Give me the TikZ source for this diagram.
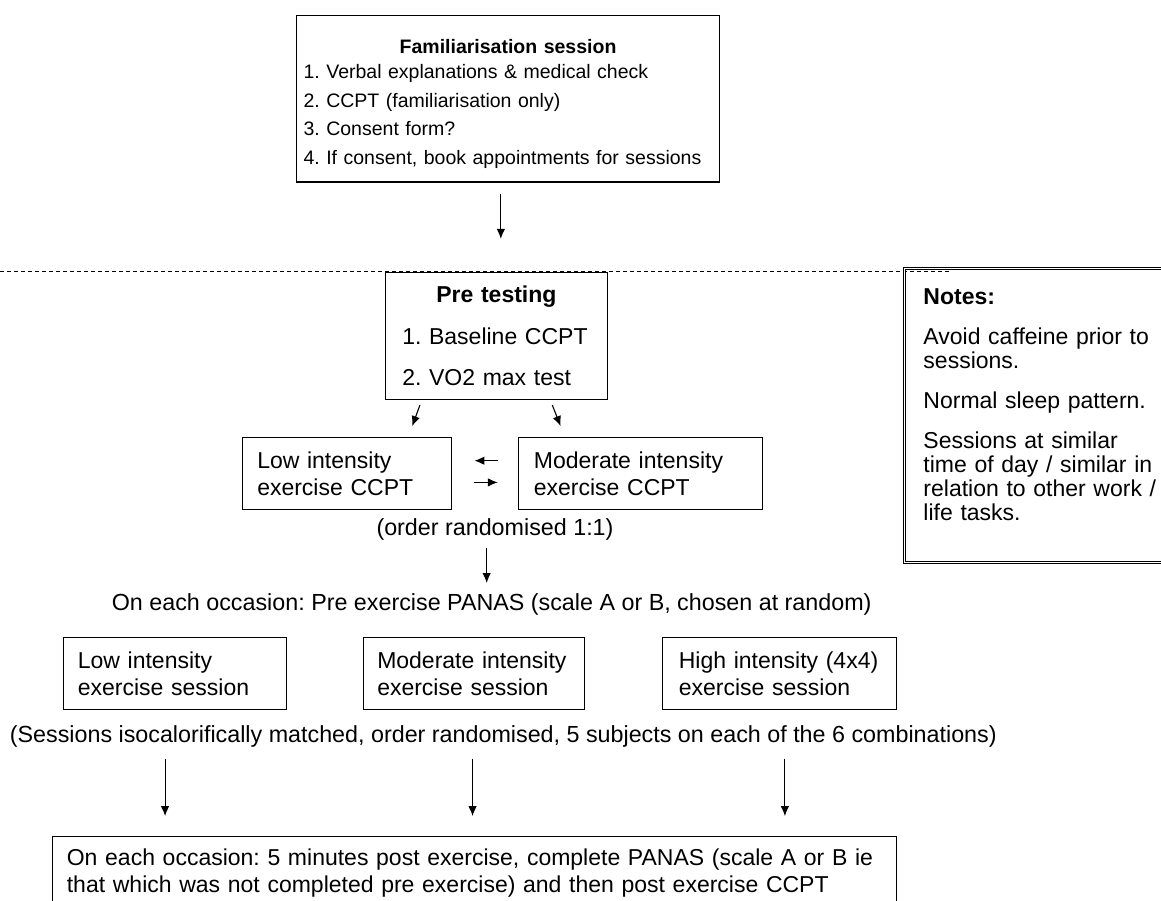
\documentclass[tikz,border=0pt]{standalone}
\usepackage{fontspec}
\setmainfont{Liberation Sans}
\usetikzlibrary{arrows.meta}
\begin{document}
\frenchspacing
\begin{tikzpicture}[x=1pt, y=-1pt, >={Latex[length=10pt,width=8.5pt]}, line width=1.1pt,
  box/.style={draw, anchor=north west, align=left, inner ysep=0pt,
    font=\fontsize{23}{27}\selectfont},
  plain/.style={font=\fontsize{23.3}{27}\selectfont, inner sep=0pt}]
\clip (0,0) rectangle (1161,901);
% familiarisation (above the dashed line)
\node[box, inner xsep=7pt, text width=409pt, minimum height=166.5pt,
  font=\fontsize{19.5}{28.5}\selectfont] (fam) at (296,15)
  {\makebox[\hsize][c]{\rule{0pt}{24pt}\bfseries Familiarisation session}\\[-3.5pt]
   1. Verbal explanations \& medical check\\
   2. CCPT (familiarisation only)\\
   3. Consent form?\\
   4. If consent, book appointments for sessions};
\coordinate (dashstart) at (0,271);
\coordinate (dashend) at (950,271);
\draw[line width=0.9pt, dash pattern=on 4pt off 3pt] (dashstart) -- (dashend);
\draw[->] (fam.south) ++(-7.2,11.3) -- ++(0,45);
% notes
\node[box, double, line width=0.9pt, double distance=1.6pt, inner xsep=19pt,
  text width=240pt, minimum height=294pt, font=\fontsize{23}{24}\selectfont] (notes) at (904,268)
  {\textbf{Notes:}\\[16pt]
   Avoid caffeine prior to\\ sessions.\\[16pt]
   Normal sleep pattern.\\[16pt]
   Sessions at similar\\ time of day / similar in\\ relation to other work /\\ life tasks.\\[-2pt]\mbox{}};
% pre testing
\node[box, inner xsep=16.7pt, text width=188.3pt, minimum height=127.3pt,
  font=\fontsize{23}{41.7}\selectfont] (pre) at (385,271.7)
  {\makebox[\hsize][c]{\bfseries Pre testing}\\
   1. Baseline CCPT\\
   2. VO2 max test};
\node[box, inner xsep=15pt, text width=179.3pt, minimum height=71.7pt] (lowc) at (241.7,437.3)
  {Low intensity\\ exercise CCPT};
\node[box, inner xsep=15pt, text width=213.4pt, minimum height=72.6pt] (modc) at (518.3,436.7)
  {Moderate intensity\\ exercise CCPT};
\draw[->] (pre.south) ++(-76.5,5) -- ++(-7.6,21);
\draw[->] (pre.south) ++(55.9,5) -- ++(8.3,21);
\draw[->] (lowc.east) ++(45.7,-13) -- ++(-23.4,0);
\draw[->] (lowc.east) ++(22.3,8.7) -- ++(23.4,0);
\node[plain] (ord) at (495,529) {(order randomised 1:1)};
\draw[->] (ord.center) ++(-8.3,19) -- ++(0,35);
\node[plain] (pan) at (491.7,604) {On each occasion: Pre exercise PANAS (scale A or B, chosen at random)};
% sessions
\node[box, inner xsep=14pt, text width=194.4pt, minimum height=72.3pt] (lows) at (63.3,636.7)
  {Low intensity\\ exercise session};
\node[box, inner xsep=14pt, text width=193.6pt, minimum height=72.3pt] (mods) at (362.7,636.7)
  {Moderate intensity\\ exercise session};
\node[box, inner xsep=16pt, text width=201.7pt, minimum height=72.3pt] (highs) at (662.3,636.7)
  {High intensity (4x4)\\ exercise session};
\node[plain] (iso) at (503.3,736.7) {(Sessions isocalorifically matched, order randomised, 5 subjects on each of the 6 combinations)};
\draw[->] (lows.south) ++(-10,49) -- ++(0,57);
\draw[->] (mods.south) ++(-1.5,49) -- ++(0,57);
\draw[->] (highs.south) ++(5.2,49) -- ++(0,57);
% post exercise
\node[box, inner xsep=14pt, text width=815.7pt, minimum height=73pt] (post) at (52.3,836)
  {On each occasion: 5 minutes post exercise, complete PANAS (scale A or B ie\\
   that which was not completed pre exercise) and then post exercise CCPT};
\end{tikzpicture}
\end{document}
